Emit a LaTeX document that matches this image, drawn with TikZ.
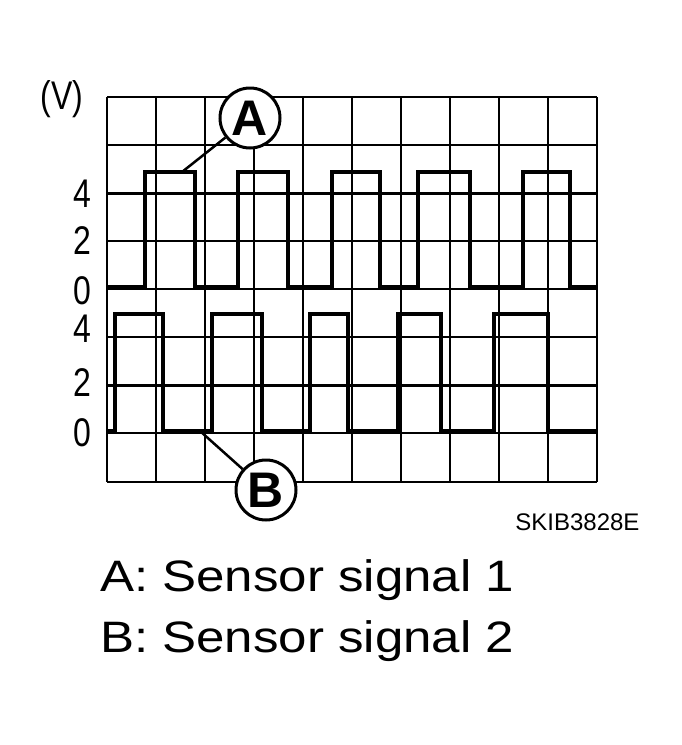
\documentclass[tikz,border=0pt]{standalone}
\usepackage{fontspec}
\setmainfont{Liberation Sans}
\usepackage{graphicx}

\begin{document}
\begin{tikzpicture}[x=1pt, y=-1pt, line join=miter]
  \tikzset{
    grid/.style={line width=1.8pt},
    axis/.style={line width=3pt},
    signal/.style={line width=4pt},
    tick/.style={font=\fontsize{40}{40}\selectfont, anchor=center, xscale=0.8},
    tag/.style={circle, draw, line width=3pt, minimum size=60pt, inner sep=0pt, font=\bfseries\fontsize{50}{50}\selectfont},
    legend/.style={font=\fontsize{44}{44}\selectfont, anchor=west, xscale=1.16}
  }
  \useasboundingbox (0,0) rectangle (681,745);
  % scope grid
  \foreach \x in {107,156,205,254,303,352,401,450,499,548,597}
    \draw[grid] (\x,97) -- (\x,482);
  \foreach \y in {97,145,193,241,289,337,385,433,482}
    \draw[grid] (107,\y) -- (597,\y);
  \draw[axis] (107,193) -- (597,193);
  \draw[axis] (107,385) -- (597,385);
  % tick labels
  \node[tick] (volt) at (62,99) {(V)};
  \node[tick] (a4) at (82,194) {4};
  \node[tick] (a2) at (82,241) {2};
  \node[tick] (a0) at (82,291) {0};
  \node[tick] (b4) at (82,329) {4};
  \node[tick] (b2) at (82,383) {2};
  \node[tick] (b0) at (82,433) {0};
  % signals
  \draw[signal] (107,287) -- (145,287) -- (145,172) -- (195,172) -- (195,287)
    -- (238,287) -- (238,172) -- (288,172) -- (288,287)
    -- (332,287) -- (332,172) -- (380,172) -- (380,287)
    -- (418,287) -- (418,172) -- (470,172) -- (470,287)
    -- (523,287) -- (523,172) -- (570,172) -- (570,287) -- (597,287);
  \draw[signal] (107,431) -- (115,431) -- (115,314) -- (163,314) -- (163,431)
    -- (212,431) -- (212,314) -- (262,314) -- (262,431)
    -- (310,431) -- (310,314) -- (348,314) -- (348,431)
    -- (398,431) -- (398,314) -- (441,314) -- (441,431)
    -- (494,431) -- (494,314) -- (548,314) -- (548,431) -- (597,431);
  % callouts
  \node[tag, fill=white] (tagA) at (250,118) {A};
  \node[tag, fill=white] (tagB) at (266,490) {B};
  \coordinate (onA) at (182,172);
  \coordinate (onB) at (200,431);
  \draw[line width=2.5pt] (onA) -- (tagA);
  \draw[line width=2.5pt] (onB) -- (tagB);
  \node[font=\fontsize{24}{24}\selectfont, anchor=east] (code) at (643,522) {SKIB3828E};
  \node[legend] (legA) at (96,580) {A: Sensor signal 1};
  \node[legend] (legB) at (96,641) {B: Sensor signal 2};
\end{tikzpicture}
\end{document}
